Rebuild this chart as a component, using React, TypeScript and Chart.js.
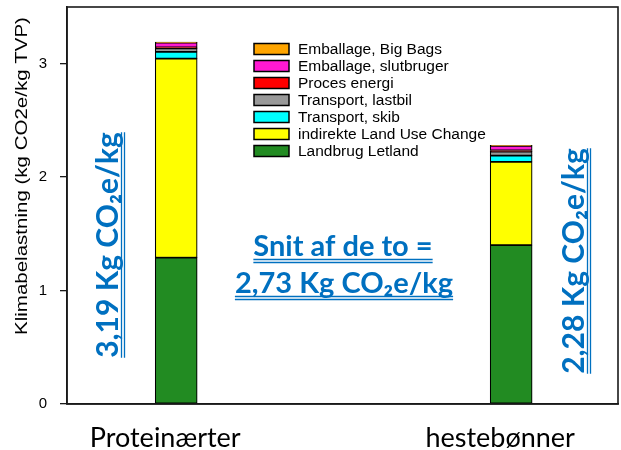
import React, { useEffect, useRef } from "react";
import { Chart, registerables } from "chart.js";

Chart.register(...registerables);

const categories = ["Proteinærter", "hestebønner"];
const seriesNames = [
  "Landbrug Letland",
  "indirekte Land Use Change",
  "Transport, skib",
  "Transport, lastbil",
  "Proces energi",
  "Emballage, slutbruger",
  "Emballage, Big Bags",
];
const landbrug = [1.29, 1.4];
const iluc = [1.755, 0.735];
const skib = [0.06, 0.055];
const lastbil = [0.03, 0.035];
const procesEnergi = [0.01, 0.01];
const slutbruger = [0.04, 0.04];
const bigBags = [0.005, 0.005];
const seriesColors = ["#228B22", "#FFFF00", "#00FFFF", "#999999", "#FF0000", "#FF19D2", "#FFA500"];
const yTicks = [0, 1, 2, 3];
const yTitle = "Klimabelastning (kg CO2e/kg TVP)";
const totalLabels = ["3,19 Kg CO₂e/kg", "2,28 Kg CO₂e/kg"];
const avgLines = ["Snit af de to =", "2,73 Kg CO₂e/kg"];

const BLUE = "#0070C0";

function drawUnderlined(ctx: CanvasRenderingContext2D, text: string, x: number, y: number) {
  ctx.fillText(text, x, y);
  const w = ctx.measureText(text).width;
  const x0 = x - w / 2;
  ctx.lineWidth = 1.3;
  ctx.strokeStyle = BLUE;
  ctx.beginPath();
  ctx.moveTo(x0, y + 3.5);
  ctx.lineTo(x0 + w, y + 3.5);
  ctx.moveTo(x0, y + 6.5);
  ctx.lineTo(x0 + w, y + 6.5);
  ctx.stroke();
}

const overlayPlugin = {
  id: "overlay",
  afterDraw(chart: any) {
    const ctx: CanvasRenderingContext2D = chart.ctx;
    const area = chart.chartArea;
    ctx.save();
    // frame
    ctx.strokeStyle = "#1a1a1a";
    ctx.lineWidth = 1.6;
    ctx.strokeRect(area.left, area.top, area.right - area.left, area.bottom - area.top);

    // y title
    ctx.save();
    ctx.translate(22, 176);
    ctx.rotate(-Math.PI / 2);
    ctx.scale(1, 0.8);
    ctx.fillStyle = "#000";
    ctx.font = '20.5px "Liberation Sans", Arial, sans-serif';
    ctx.textAlign = "center";
    ctx.textBaseline = "middle";
    ctx.fillText(yTitle, 0, 0);
    ctx.restore();

    // legend
    const ds = chart.data.datasets;
    ctx.font = '15.5px "Liberation Sans", Arial, sans-serif';
    ctx.textBaseline = "middle";
    ctx.textAlign = "left";
    for (let i = 0; i < ds.length; i++) {
      const d = ds[ds.length - 1 - i];
      const cy = 49 + i * 17;
      ctx.fillStyle = d.backgroundColor;
      ctx.fillRect(254, cy - 5.5, 35, 11);
      ctx.strokeStyle = "#000";
      ctx.lineWidth = 1.5;
      ctx.strokeRect(254, cy - 5.5, 35, 11);
      ctx.fillStyle = "#000";
      ctx.fillText(d.label, 298, cy + 1);
    }

    // annotations
    ctx.fillStyle = BLUE;
    ctx.textAlign = "center";
    ctx.textBaseline = "alphabetic";
    ctx.font = 'bold 29px Lato, "Open Sans", sans-serif';
    drawUnderlined(ctx, avgLines[0], 343, 256);
    drawUnderlined(ctx, avgLines[1], 344, 293);

    ctx.font = 'bold 30px Lato, "Open Sans", sans-serif';
    const rot = [
      { x: 118, y: 245 },
      { x: 584, y: 261 },
    ];
    for (let i = 0; i < totalLabels.length; i++) {
      ctx.save();
      ctx.translate(rot[i].x, rot[i].y);
      ctx.rotate(-Math.PI / 2);
      drawUnderlined(ctx, totalLabels[i], 0, 0);
      ctx.restore();
    }
    ctx.restore();
  },
};

export default function App() {
  const ref = useRef<HTMLCanvasElement | null>(null);
  useEffect(() => {
    if (!ref.current) return;
    const values = [landbrug, iluc, skib, lastbil, procesEnergi, slutbruger, bigBags];
    const chart = new Chart(ref.current, {
      type: "bar",
      data: {
        datasets: values.map((arr, k) => ({
          label: seriesNames[k],
          data: arr.map((v, i) => ({ x: i, y: v })),
          backgroundColor: seriesColors[k],
          borderColor: "#000",
          borderWidth: 1.2,
          borderSkipped: false,
          barThickness: 42,
        })),
      },
      options: {
        responsive: false,
        animation: false,
        devicePixelRatio: 1,
        layout: { padding: { top: 7, right: 3, left: 0, bottom: 0 } },
        plugins: { legend: { display: false }, title: { display: false }, tooltip: { enabled: false } },
        scales: {
          x: {
            type: "linear",
            stacked: true,
            offset: false,
            min: -0.326,
            max: 1.319,
            afterBuildTicks: (scale: any) => {
              scale.ticks = categories.map((_, i) => ({ value: i }));
            },
            afterFit: (scale: any) => {
              scale.height = 46;
              scale.paddingLeft = 0;
              scale.paddingRight = 0;
            },
            grid: { display: false, drawTicks: false, offset: false },
            border: { display: true, color: "#1a1a1a", width: 1.6 },
            ticks: {
              callback: (v: any) => categories[v] ?? "",
              font: { family: 'Lato, "Open Sans", sans-serif', size: 27 },
              color: "#000",
              padding: 18,
              labelOffset: -11,
              maxRotation: 0,
              autoSkip: false,
            },
          },
          y: {
            type: "linear",
            stacked: true,
            min: 0,
            max: 3.5,
            afterBuildTicks: (scale: any) => {
              scale.ticks = yTicks.map((v) => ({ value: v }));
            },
            afterFit: (scale: any) => {
              scale.width = 67;
              scale.paddingTop = 0;
              scale.paddingBottom = 0;
            },
            grid: { display: true, drawOnChartArea: false, drawTicks: true, tickLength: 7, color: "#1a1a1a", lineWidth: 1.3 },
            border: { display: true, color: "#1a1a1a", width: 1.6 },
            ticks: {
              font: { family: '"Liberation Sans", Arial, sans-serif', size: 15 },
              color: "#000",
              padding: 13,
            },
          },
        },
      },
      plugins: [overlayPlugin],
    } as any);
    return () => chart.destroy();
  }, []);
  return (
    <div style={{ position: "fixed", left: 0, top: 0, width: 621, height: 450, background: "#fff" }}>
      <canvas ref={ref} width={621} height={450} style={{ width: 621, height: 450, display: "block" }} />
    </div>
  );
}
